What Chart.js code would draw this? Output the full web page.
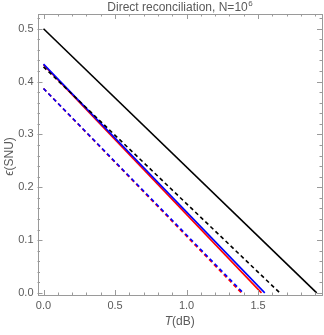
<!DOCTYPE html>
<html>
<head>
<meta charset="utf-8">
<script src="https://cdn.jsdelivr.net/npm/chart.js@4"></script>
<style>
  body { margin: 0; background: #fff; }
  #chart { display: block; }
</style>
</head>
<body>
<canvas id="chart" width="324" height="335"></canvas>
<script>
// values (T in dB, epsilon in SNU)
var blackSolidT = [0, 1.91];
var blackSolidE = [0.5, 0];
var blackDashT = [0, 1.652];
var blackDashE = [0.428, 0];
var blueSolidT = [0, 1.547];
var blueSolidE = [0.433, 0];
var redSolidT = [0, 1.524];
var redSolidE = [0.432, 0];
var blueDashT = [0, 1.396];
var blueDashE = [0.387, 0];
var redDashT = [0, 1.384];
var redDashE = [0.387, 0];

var xTickLabels = ['0.0', '0.5', '1.0', '1.5'];
var yTickLabels = ['0.0', '0.1', '0.2', '0.3', '0.4', '0.5'];

function points(xs, ys) {
    return xs.map(function (x, i) { return { x: x, y: ys[i] }; });
}

function series(xs, ys, color, dashed, order) {
    return {
        data: points(xs, ys),
        borderColor: color,
        borderWidth: 1.6,
        borderDash: dashed ? [4, 3] : [],
        showLine: true,
        pointRadius: 0,
        fill: false,
        order: order
    };
}

var FRAME = '#9a9a9a';
var TEXT = '#5a5a5a';

// frame, inside ticks, titles (Mathematica look)
var framePlugin = {
    id: 'frame',
    afterDraw: function (chart) {
        var ctx = chart.ctx;
        var a = chart.chartArea;
        var xs = chart.scales.x, ys = chart.scales.y;
        ctx.save();
        ctx.strokeStyle = FRAME;
        ctx.lineWidth = 1;
        ctx.strokeRect(Math.round(a.left) + 0.5, Math.round(a.top) + 0.5,
            Math.round(a.right - a.left) - 1, Math.round(a.bottom - a.top));

        ctx.beginPath();
        var i, v, p, len;
        for (i = 0; i <= 19; i++) {
            v = i / 10;
            p = Math.round(xs.getPixelForValue(v)) + 0.5;
            len = (i % 5 === 0) ? 5 : 2.5;
            ctx.moveTo(p, a.bottom); ctx.lineTo(p, a.bottom - len);
            ctx.moveTo(p, a.top); ctx.lineTo(p, a.top + len);
        }
        for (i = 0; i <= 26; i++) {
            v = i / 50;
            p = Math.round(ys.getPixelForValue(v)) + 0.5;
            len = (i % 5 === 0) ? 5 : 2.5;
            ctx.moveTo(a.left, p); ctx.lineTo(a.left + len, p);
            ctx.moveTo(a.right, p); ctx.lineTo(a.right - len, p);
        }
        ctx.stroke();

        // title with superscript
        ctx.fillStyle = TEXT;
        ctx.textBaseline = 'alphabetic';
        ctx.textAlign = 'left';
        var main = 'Direct reconciliation, N=10';
        ctx.font = '12px "Liberation Sans", Arial, sans-serif';
        var w1 = ctx.measureText(main).width;
        ctx.font = '8px "Liberation Sans", Arial, sans-serif';
        var w2 = ctx.measureText('6').width;
        var cx = (a.left + a.right) / 2;
        var x0 = cx - (w1 + w2) / 2;
        ctx.font = '12px "Liberation Sans", Arial, sans-serif';
        ctx.fillText(main, x0, 11);
        ctx.font = '8px "Liberation Sans", Arial, sans-serif';
        ctx.fillText('6', x0 + w1 + 0.5, 6);

        // x axis title: italic T + (dB)
        ctx.textBaseline = 'middle';
        ctx.font = 'italic 12px "Liberation Sans", Arial, sans-serif';
        var wt = ctx.measureText('T').width;
        ctx.font = '12px "Liberation Sans", Arial, sans-serif';
        var wd = ctx.measureText('(dB)').width;
        x0 = cx - (wt + wd) / 2;
        ctx.font = 'italic 12px "Liberation Sans", Arial, sans-serif';
        ctx.fillText('T', x0, 322);
        ctx.font = '12px "Liberation Sans", Arial, sans-serif';
        ctx.fillText('(dB)', x0 + wt, 322);

        // y axis title: italic epsilon + (SNU)
        ctx.translate(10, (a.top + a.bottom) / 2 + 2);
        ctx.rotate(-Math.PI / 2);
        ctx.font = 'italic 12px "Liberation Sans", Arial, sans-serif';
        var we = ctx.measureText('\u03f5').width;
        ctx.font = '12px "Liberation Sans", Arial, sans-serif';
        var ws = ctx.measureText('(SNU)').width;
        x0 = -(we + ws) / 2;
        ctx.font = 'italic 12px "Liberation Sans", Arial, sans-serif';
        ctx.fillText('\u03f5', x0, 0);
        ctx.font = '12px "Liberation Sans", Arial, sans-serif';
        ctx.fillText('(SNU)', x0 + we, 0);
        ctx.restore();
    }
};

var tickFont = { family: '"Liberation Sans", Arial, sans-serif', size: 11 };

new Chart(document.getElementById('chart'), {
    type: 'scatter',
    data: {
        datasets: [
            series(blackSolidT, blackSolidE, '#000000', false, 1),
            series(blackDashT, blackDashE, '#000000', true, 2),
            series(blueSolidT, blueSolidE, '#0000ff', false, 3),
            series(redSolidT, redSolidE, '#ff0000', false, 4),
            series(blueDashT, blueDashE, '#0000ff', true, 5),
            series(redDashT, redDashE, '#ff0000', true, 6)
        ]
    },
    options: {
        responsive: false,
        animation: false,
        layout: { padding: { top: 14, right: 2, left: 0, bottom: 0 } },
        plugins: {
            legend: { display: false },
            title: { display: false },
            tooltip: { enabled: false }
        },
        scales: {
            x: {
                type: 'linear',
                min: -0.042,
                max: 1.947,
                grid: { display: false, drawTicks: false },
                border: { display: false },
                ticks: {
                    stepSize: 0.5,
                    includeBounds: false,
                    maxRotation: 0,
                    padding: 4,
                    color: TEXT,
                    font: tickFont,
                    callback: function (v) {
                        var k = Math.round(v * 2);
                        return xTickLabels[k] !== undefined ? xTickLabels[k] : '';
                    }
                },
                afterFit: function (s) { s.height = 40; }
            },
            y: {
                type: 'linear',
                min: -0.004,
                max: 0.528,
                grid: { display: false, drawTicks: false },
                border: { display: false },
                ticks: {
                    stepSize: 0.1,
                    includeBounds: false,
                    padding: 4,
                    color: TEXT,
                    font: tickFont,
                    callback: function (v) {
                        var k = Math.round(v * 10);
                        return yTickLabels[k] !== undefined ? yTickLabels[k] : '';
                    }
                },
                afterFit: function (s) { s.width = 37.5; }
            }
        }
    },
    plugins: [framePlugin]
});
</script>
</body>
</html>
